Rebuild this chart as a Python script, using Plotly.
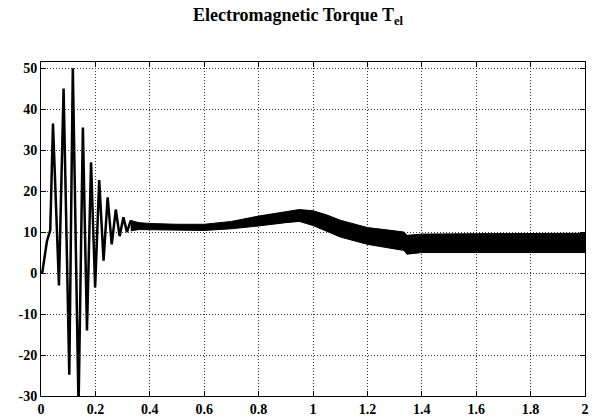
import plotly.graph_objects as go

# Transient part: extrema (time s, torque)
t_transient = [0, 0.005, 0.022, 0.034, 0.044, 0.066, 0.083, 0.104, 0.117, 0.138,
               0.154, 0.169, 0.184, 0.199, 0.214, 0.230, 0.245, 0.260, 0.275,
               0.289, 0.303, 0.316, 0.330, 0.345]
v_transient = [0, 0.3, 7.8, 10.5, 36.5, -3, 45, -24.8, 50, -33,
               35.5, -14, 27, -3.5, 22.7, 3, 18.5, 7, 15.5,
               9, 13.6, 10, 12.8, 11.2]

# Ripple band after the transient: upper / lower envelope
t_band = [0.33, 0.36, 0.4, 0.5, 0.6, 0.7, 0.8, 0.9, 0.95, 1.0, 1.05, 1.1,
          1.2, 1.3, 1.335, 1.345, 1.4, 1.6, 1.8, 2.0]
upper = [12.8, 12.3, 12.1, 11.9, 11.9, 12.6, 13.9, 15.0, 15.5, 15.2, 14.2, 12.9,
         11.1, 10.3, 10.0, 9.2, 9.5, 9.6, 9.7, 9.7]
lower = [10.3, 10.6, 10.5, 10.5, 10.4, 10.8, 11.5, 12.3, 12.6, 11.6, 10.2, 8.8,
         7.0, 5.9, 5.5, 4.6, 5.0, 5.0, 5.0, 5.0]

x_ticks = [0, 0.2, 0.4, 0.6, 0.8, 1, 1.2, 1.4, 1.6, 1.8, 2]
x_labels = ["0", "0.2", "0.4", "0.6", "0.8", "1", "1.2", "1.4", "1.6", "1.8", "2"]
y_ticks = [-30, -20, -10, 0, 10, 20, 30, 40, 50]
y_labels = ["-30", "-20", "-10", "0", "10", "20", "30", "40", "50"]

fig = go.Figure()
fig.add_trace(go.Scatter(
    x=t_band + t_band[::-1], y=upper + lower[::-1],
    mode="lines", fill="toself", fillcolor="black",
    line=dict(color="black", width=1), hoverinfo="skip", showlegend=False))
fig.add_trace(go.Scatter(
    x=t_transient, y=v_transient, mode="lines",
    line=dict(color="black", width=2.5), showlegend=False))

font_family = "Liberation Serif"
axis_common = dict(
    showline=True, linecolor="black", linewidth=1, mirror="ticks",
    ticks="inside", ticklen=5, tickcolor="black", tickwidth=1,
    showgrid=True, gridcolor="#333333", gridwidth=1, griddash="1px,2px",
    zeroline=False, automargin=False,
    tickfont=dict(family=font_family, size=14, color="black"),
)

fig.update_layout(
    width=596, height=417,
    margin=dict(l=40.5, r=10.5, t=62, b=21),
    paper_bgcolor="white", plot_bgcolor="white",
    font=dict(family=font_family, color="black"),
    title=dict(text="<b>Electromagnetic Torque T<sub>el</sub></b>",
               x=0.5, xanchor="center", y=1 - 15 / 417, yanchor="middle",
               yref="container",
               font=dict(family=font_family, size=18, color="black")),
    xaxis=dict(range=[0, 2], tickvals=x_ticks,
               ticktext=["<b>" + s + "</b>" for s in x_labels], **axis_common),
    yaxis=dict(range=[-30, 51.5], tickvals=y_ticks,
               ticktext=["<b>" + s + "</b>" for s in y_labels], **axis_common),
)

fig.write_html("out.html")
